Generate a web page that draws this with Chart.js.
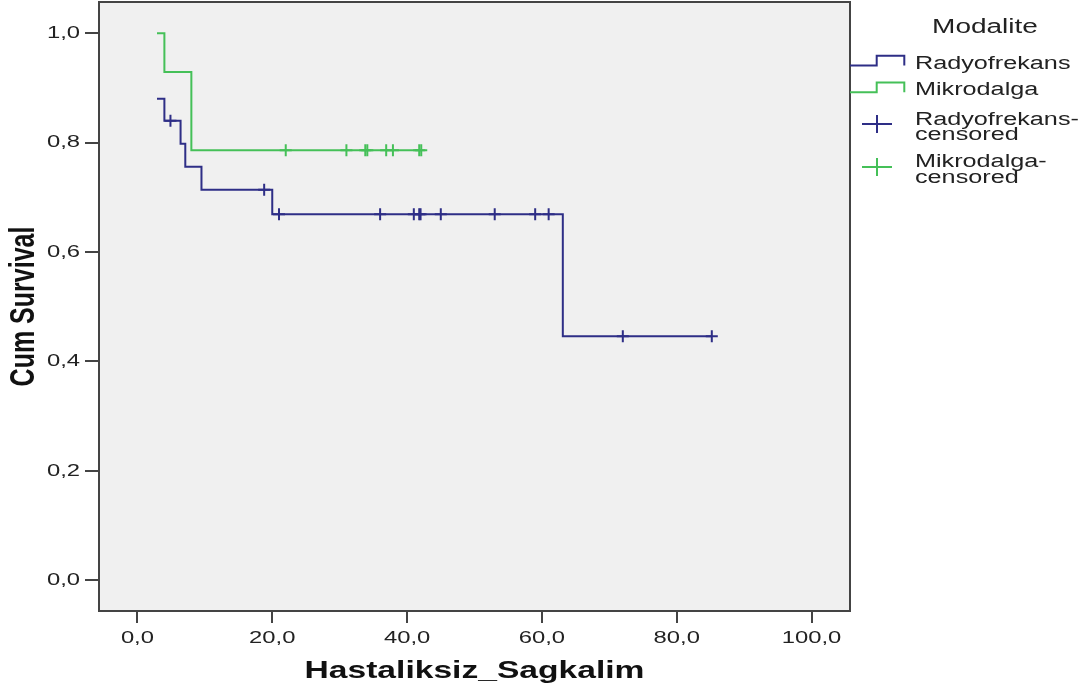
<!DOCTYPE html>
<html><head><meta charset="utf-8">
<script src="https://cdn.jsdelivr.net/npm/chart.js@4/dist/chart.umd.min.js"></script>
<style>html,body{margin:0;padding:0;background:#fff;} canvas{display:block;}</style>
</head><body>
<canvas id="c" width="1092" height="695"></canvas>
<script>
// ---- data ----
const seriesNames = ['Radyofrekans', 'Mikrodalga'];
const censorNames = ['Radyofrekans-\ncensored', 'Mikrodalga-\ncensored'];
const legendTitle = 'Modalite';
const xTitle = 'Hastaliksiz_Sagkalim';
const yTitle = 'Cum Survival';

const rfTimes    = [2.9, 4.0, 6.4, 7.1, 9.5, 20.0, 63.1, 85.2];
const rfSurvival = [0.880, 0.840, 0.798, 0.756, 0.714, 0.669, 0.446, 0.446];
const rfCensorTimes    = [4.9, 18.8, 21.0, 36.0, 41.0, 41.8, 42.0, 45.0, 53.0, 59.0, 61.0, 72.0, 85.2];
const rfCensorSurvival = [0.840, 0.714, 0.669, 0.669, 0.669, 0.669, 0.669, 0.669, 0.669, 0.669, 0.669, 0.446, 0.446];

const mwTimes    = [2.9, 4.0, 8.0, 42.1];
const mwSurvival = [1.000, 0.929, 0.786, 0.786];
const mwCensorTimes    = [22.0, 31.0, 33.8, 34.1, 36.9, 37.9, 41.8, 42.1];
const mwCensorSurvival = [0.786, 0.786, 0.786, 0.786, 0.786, 0.786, 0.786, 0.786];

const xTicks = [0, 20, 40, 60, 80, 100];
const yTicks = [0, 0.2, 0.4, 0.6, 0.8, 1.0];

// ---- styling ----
const BLUE = '#2e2e86';
const GREEN = '#45c058';
const K = 1.4; // horizontal text stretch seen in the reference

const canvas = document.getElementById('c');
const ctx = canvas.getContext('2d');
const protoFill = CanvasRenderingContext2D.prototype.fillText;
ctx.fillText = function (t, x, y) {
  const M = this.getTransform();
  const p = M.transformPoint(new DOMPoint(x, y));
  this.save();
  const S = new DOMMatrix().translate(p.x, p.y).scale(K, 1).translate(-p.x, -p.y);
  this.setTransform(S.multiply(M));
  protoFill.call(this, t, x, y);
  this.restore();
};

const pts = (xs, ys) => xs.map((x, i) => ({ x: x, y: ys[i] }));
const fmt = v => Number(v).toFixed(1).replace('.', ',');
const FONT = '"Liberation Sans", Arial, sans-serif';
Chart.defaults.font.family = FONT;

const framePlugin = {
  id: 'frame',
  beforeDraw(chart) {
    const c = chart.ctx, a = chart.chartArea;
    c.save();
    c.fillStyle = '#ffffff';
    c.fillRect(0, 0, chart.width, chart.height);
    c.fillStyle = '#f0f0f0';
    c.fillRect(a.left, a.top, a.right - a.left, a.bottom - a.top);
    c.restore();
  },
  afterDraw(chart) {
    const c = chart.ctx, a = chart.chartArea;
    c.save();
    c.strokeStyle = '#444';
    c.lineWidth = 2;
    c.strokeRect(a.left, a.top, a.right - a.left, a.bottom - a.top);

    // legend
    c.fillStyle = '#222';
    c.textBaseline = 'alphabetic';
    c.font = '20px ' + FONT;
    c.textAlign = 'center';
    c.fillText(legendTitle, 985, 33);

    c.lineWidth = 2;
    const steps = [[BLUE, 65.5], [GREEN, 92.3]];
    steps.forEach(([col, y]) => {
      c.strokeStyle = col;
      c.beginPath();
      c.moveTo(a.right, y);
      c.lineTo(876.7, y);
      c.lineTo(876.7, y - 9.8);
      c.lineTo(904.3, y - 9.8);
      c.lineTo(904.3, y);
      c.stroke();
    });
    const crosses = [[BLUE, 124], [GREEN, 167]];
    crosses.forEach(([col, y]) => {
      c.strokeStyle = col;
      c.beginPath();
      c.moveTo(862, y); c.lineTo(892, y);
      c.moveTo(877, y - 9); c.lineTo(877, y + 9);
      c.stroke();
    });

    c.font = '18px ' + FONT;
    c.textAlign = 'left';
    c.fillText(seriesNames[0], 915, 69.3);
    c.fillText(seriesNames[1], 915, 95);
    const l1 = censorNames[0].split('\n');
    c.fillText(l1[0], 915, 125);
    c.fillText(l1[1], 915, 139.5);
    const l2 = censorNames[1].split('\n');
    c.fillText(l2[0], 915, 167);
    c.fillText(l2[1], 915, 183.3);
    c.restore();
  }
};

const noPad = s => { s.paddingTop = 0; s.paddingBottom = 0; s.paddingLeft = 0; s.paddingRight = 0; };

new Chart(ctx, {
  type: 'line',
  data: {
    datasets: [
      { label: seriesNames[0], data: pts(rfTimes, rfSurvival), borderColor: BLUE, borderWidth: 2,
        stepped: 'before', pointRadius: 0, fill: false },
      { label: seriesNames[1], data: pts(mwTimes, mwSurvival), borderColor: GREEN, borderWidth: 2,
        stepped: 'before', pointRadius: 0, fill: false },
      { label: 'Radyofrekans-censored', data: pts(rfCensorTimes, rfCensorSurvival), showLine: false,
        pointStyle: 'cross', pointRadius: 6, borderColor: BLUE, pointBorderWidth: 2, pointHoverRadius: 6 },
      { label: 'Mikrodalga-censored', data: pts(mwCensorTimes, mwCensorSurvival), showLine: false,
        pointStyle: 'cross', pointRadius: 6, borderColor: GREEN, pointBorderWidth: 2, pointHoverRadius: 6 }
    ]
  },
  options: {
    responsive: false,
    animation: false,
    events: [],
    layout: { autoPadding: false, padding: { left: 0, right: 242, top: 2, bottom: 0 } },
    plugins: { legend: { display: false }, tooltip: { enabled: false } },
    scales: {
      x: {
        type: 'linear', min: -5.7, max: 105.7,
        afterBuildTicks: s => { s.ticks = xTicks.map(v => ({ value: v })); },
        afterFit: s => { s.height = 84; noPad(s); },
        grid: { drawOnChartArea: false, drawTicks: true, tickLength: 12, color: '#444', lineWidth: 2 },
        border: { display: false },
        ticks: { padding: 5, font: { size: 17 }, color: '#222', callback: v => fmt(v), maxRotation: 0, autoSkip: false },
        title: { display: true, text: xTitle, font: { size: 24, weight: 'bold' }, color: '#111', padding: 9 }
      },
      y: {
        type: 'linear', min: -0.056, max: 1.057,
        afterBuildTicks: s => { s.ticks = yTicks.map(v => ({ value: v })); },
        afterFit: s => { s.width = 99; noPad(s); },
        grid: { drawOnChartArea: false, drawTicks: true, tickLength: 14, color: '#444', lineWidth: 2 },
        border: { display: false },
        ticks: { padding: 5, font: { size: 17 }, color: '#222', callback: v => fmt(v), autoSkip: false },
        title: { display: true, text: yTitle, font: { size: 25, weight: 'bold' }, color: '#111', padding: 9 }
      }
    }
  },
  plugins: [framePlugin]
});
</script>
</body></html>
